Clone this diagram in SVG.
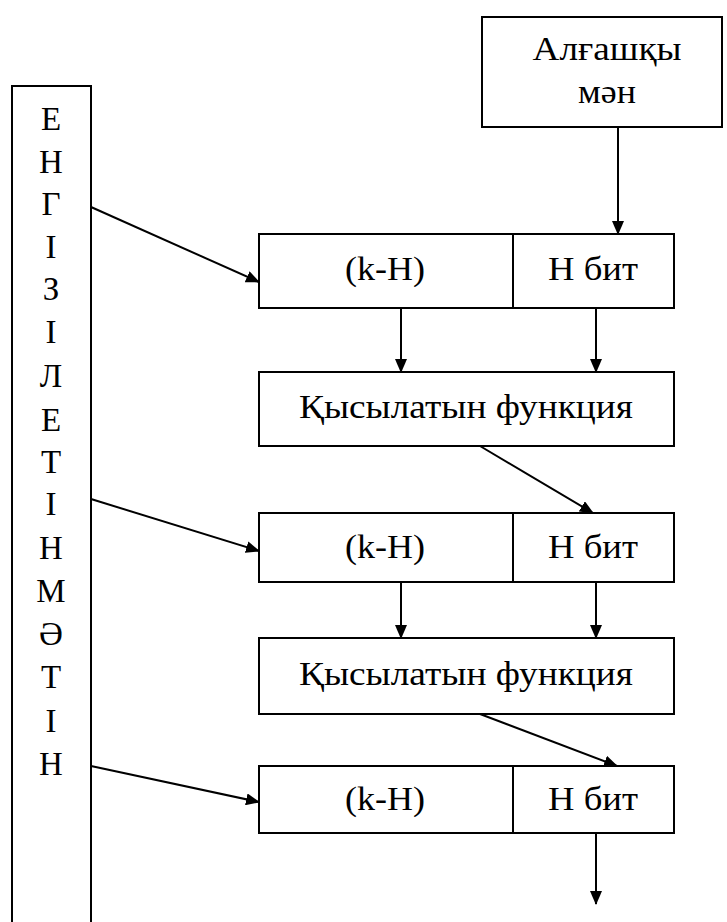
<svg xmlns="http://www.w3.org/2000/svg" width="727" height="922" viewBox="0 0 727 922">
  <defs>
    <marker id="arrow" markerUnits="userSpaceOnUse" markerWidth="14" markerHeight="12" refX="13" refY="6" orient="auto">
      <path d="M0,0 L14,6 L0,12 Z" fill="#000"/>
    </marker>
  </defs>
  <rect width="727" height="922" fill="#fff"/>

  <!-- input message column -->
  <g id="message">
    <rect x="12" y="86" width="79" height="850" fill="#fff" stroke="#000" stroke-width="2"/>
    <text font-family="Liberation Serif" font-size="33" text-anchor="middle" x="51" y="130">Е</text>
    <text font-family="Liberation Serif" font-size="33" text-anchor="middle" x="51" y="173">Н</text>
    <text font-family="Liberation Serif" font-size="33" text-anchor="middle" x="51" y="215">Г</text>
    <text font-family="Liberation Serif" font-size="33" text-anchor="middle" x="51" y="258">І</text>
    <text font-family="Liberation Serif" font-size="33" text-anchor="middle" x="51" y="300">З</text>
    <text font-family="Liberation Serif" font-size="33" text-anchor="middle" x="51" y="343">І</text>
    <text font-family="Liberation Serif" font-size="33" text-anchor="middle" x="51" y="387">Л</text>
    <text font-family="Liberation Serif" font-size="33" text-anchor="middle" x="51" y="431">Е</text>
    <text font-family="Liberation Serif" font-size="33" text-anchor="middle" x="51" y="473">Т</text>
    <text font-family="Liberation Serif" font-size="33" text-anchor="middle" x="51" y="515">І</text>
    <text font-family="Liberation Serif" font-size="33" text-anchor="middle" x="51" y="559">Н</text>
    <text font-family="Liberation Serif" font-size="33" text-anchor="middle" x="51" y="602">М</text>
    <text font-family="Liberation Serif" font-size="33" text-anchor="middle" x="51" y="645">Ә</text>
    <text font-family="Liberation Serif" font-size="33" text-anchor="middle" x="51" y="688">Т</text>
    <text font-family="Liberation Serif" font-size="33" text-anchor="middle" x="51" y="732">І</text>
    <text font-family="Liberation Serif" font-size="33" text-anchor="middle" x="51" y="775">Н</text>
  </g>

  <!-- initial value -->
  <g id="initial">
    <rect x="482" y="17" width="240" height="110" fill="#fff" stroke="#000" stroke-width="2"/>
    <text font-family="Liberation Serif" font-size="33" text-anchor="middle" x="607" y="60" textLength="149" lengthAdjust="spacingAndGlyphs">Алғашқы</text>
    <text font-family="Liberation Serif" font-size="33" text-anchor="middle" x="607" y="103" textLength="58" lengthAdjust="spacingAndGlyphs">мән</text>
  </g>

  <!-- block 1 -->
  <g id="block1">
    <rect x="259" y="234" width="415" height="74" fill="#fff" stroke="#000" stroke-width="2"/>
    <line x1="513" y1="234" x2="513" y2="308" stroke="#000" stroke-width="2"/>
    <text font-family="Liberation Serif" font-size="33" text-anchor="middle" x="385" y="280" textLength="80" lengthAdjust="spacingAndGlyphs">(k-H)</text>
    <text font-family="Liberation Serif" font-size="33" text-anchor="middle" x="593" y="280" textLength="90" lengthAdjust="spacingAndGlyphs">H бит</text>
  </g>
  <g id="compress1">
    <rect x="259" y="372" width="415" height="74" fill="#fff" stroke="#000" stroke-width="2"/>
    <text font-family="Liberation Serif" font-size="33" text-anchor="middle" x="466" y="418" textLength="334" lengthAdjust="spacingAndGlyphs">Қысылатын функция</text>
  </g>

  <!-- block 2 -->
  <g id="block2">
    <rect x="259" y="513" width="415" height="69" fill="#fff" stroke="#000" stroke-width="2"/>
    <line x1="513" y1="513" x2="513" y2="582" stroke="#000" stroke-width="2"/>
    <text font-family="Liberation Serif" font-size="33" text-anchor="middle" x="385" y="558" textLength="80" lengthAdjust="spacingAndGlyphs">(k-H)</text>
    <text font-family="Liberation Serif" font-size="33" text-anchor="middle" x="593" y="558" textLength="90" lengthAdjust="spacingAndGlyphs">H бит</text>
  </g>
  <g id="compress2">
    <rect x="259" y="638" width="415" height="76" fill="#fff" stroke="#000" stroke-width="2"/>
    <text font-family="Liberation Serif" font-size="33" text-anchor="middle" x="466" y="685" textLength="334" lengthAdjust="spacingAndGlyphs">Қысылатын функция</text>
  </g>

  <!-- block 3 -->
  <g id="block3">
    <rect x="259" y="766" width="415" height="67" fill="#fff" stroke="#000" stroke-width="2"/>
    <line x1="513" y1="766" x2="513" y2="833" stroke="#000" stroke-width="2"/>
    <text font-family="Liberation Serif" font-size="33" text-anchor="middle" x="385" y="810" textLength="80" lengthAdjust="spacingAndGlyphs">(k-H)</text>
    <text font-family="Liberation Serif" font-size="33" text-anchor="middle" x="593" y="810" textLength="90" lengthAdjust="spacingAndGlyphs">H бит</text>
  </g>

  <!-- connectors -->
  <g id="connectors" fill="none" stroke="#000" stroke-width="2">
    <line x1="618" y1="127" x2="618" y2="234" marker-end="url(#arrow)"/>
    <line x1="91" y1="207" x2="259" y2="282" marker-end="url(#arrow)"/>
    <line x1="401" y1="308" x2="401" y2="372" marker-end="url(#arrow)"/>
    <line x1="596" y1="308" x2="596" y2="372" marker-end="url(#arrow)"/>
    <line x1="480" y1="446" x2="593" y2="513" marker-end="url(#arrow)"/>
    <line x1="91" y1="499" x2="259" y2="551" marker-end="url(#arrow)"/>
    <line x1="401" y1="582" x2="401" y2="638" marker-end="url(#arrow)"/>
    <line x1="596" y1="582" x2="596" y2="638" marker-end="url(#arrow)"/>
    <line x1="480" y1="714" x2="617" y2="766" marker-end="url(#arrow)"/>
    <line x1="91" y1="766" x2="259" y2="802" marker-end="url(#arrow)"/>
    <line x1="596" y1="833" x2="596" y2="904" marker-end="url(#arrow)"/>
  </g>
</svg>
